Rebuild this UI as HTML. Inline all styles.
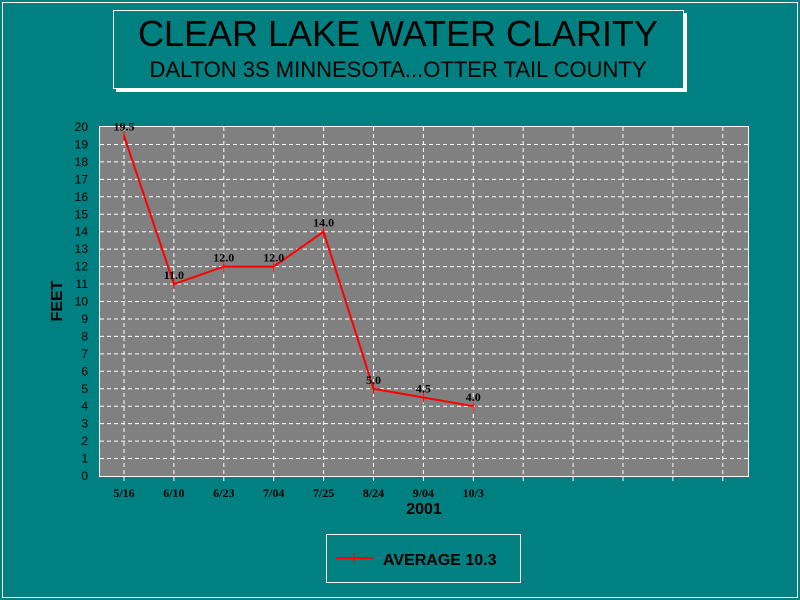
<!DOCTYPE html>
<html><head><meta charset="utf-8"><style>
body{margin:0;background:#008080;}
svg{display:block;font-family:"Liberation Sans",sans-serif;}
</style></head><body>
<svg id="chart" width="800" height="600">
<rect x="0" y="0" width="800" height="600" fill="#008080"/>
<rect x="2.5" y="2.5" width="795" height="595" fill="none" stroke="#fff"/>
<rect x="116" y="13" width="571" height="79" fill="#fff"/>
<rect x="113.5" y="10.5" width="570" height="78" fill="#008080" stroke="#fff"/>
<text x="398" y="46" font-size="36" text-anchor="middle" fill="#000">CLEAR LAKE WATER CLARITY</text>
<text x="398" y="77" font-size="22" text-anchor="middle" fill="#000">DALTON 3S MINNESOTA...OTTER TAIL COUNTY</text>
<rect x="99" y="126" width="650" height="351" fill="#fff"/>
<rect x="100" y="127" width="648" height="349" fill="#808080"/>
<g id="grid"></g><g id="axes"></g><g id="series"></g>
<text x="62" y="301" font-size="16" font-weight="bold" text-anchor="middle" transform="rotate(-90 62 301)">FEET</text>
<text x="424" y="514" font-size="16" font-weight="bold" text-anchor="middle">2001</text>
<g>
<rect x="326.5" y="534.5" width="194" height="48" fill="none" stroke="#fff"/>
<line x1="336" y1="558" x2="373" y2="558" stroke="#f00" stroke-width="2"/>
<line x1="354" y1="553" x2="354" y2="563" stroke="#f00" stroke-width="1"/>
<text x="383" y="565" font-size="16" font-weight="bold">AVERAGE 10.3</text>
</g>
</svg>
<script>
const categories=["5/16","6/10","6/23","7/04","7/25","8/24","9/04","10/3"];
const values=[19.5,11.0,12.0,12.0,14.0,5.0,4.5,4.0];
const yTicks=[0,1,2,3,4,5,6,7,8,9,10,11,12,13,14,15,16,17,18,19,20];
const slotCount=13;
const NS="http://www.w3.org/2000/svg";
const X0=124,DX=49.9,Y0=476,YT=127;
function xs(i){return X0+i*DX;}
function ys(v){return Y0-(v/20)*(Y0-YT);}
function mk(t,a,p){const e=document.createElementNS(NS,t);for(const k in a)e.setAttribute(k,a[k]);p.appendChild(e);return e;}
const grid=document.getElementById('grid'),axes=document.getElementById('axes'),ser=document.getElementById('series');
yTicks.forEach(v=>{
  if(v>0&&v<20){const l=mk('line',{x1:100,x2:748,y1:ys(v),y2:ys(v),stroke:'#fff','stroke-dasharray':'4 3'},grid);
  
  }
  const t=mk('text',{x:88,y:ys(v)+4,'font-size':12,'text-anchor':'end'},axes);t.textContent=v;
  
  
});
for(let i=0;i<slotCount;i++){
  const l=mk('line',{x1:xs(i),x2:xs(i),y1:127,y2:484,stroke:'#fff','stroke-dasharray':'4 3'},grid);
  
  
}
categories.forEach((c,i)=>{
  const t=mk('text',{x:xs(i),y:497,'font-size':12,'font-weight':'bold','text-anchor':'middle','font-family':'Liberation Serif, serif'},axes);t.textContent=c;
  
  
});
const pl=mk('polyline',{points:values.map((v,i)=>xs(i)+','+ys(v)).join(' '),fill:'none',stroke:'#f00','stroke-width':2},ser);


values.forEach((v,i)=>{
  const m=mk('line',{x1:xs(i),x2:xs(i),y1:ys(v)-5,y2:ys(v)+5,stroke:'#f00'},ser);
  
  
  const t=mk('text',{x:xs(i),y:ys(v)-5,'font-size':12,'font-weight':'bold','text-anchor':'middle','font-family':'Liberation Serif, serif'},ser);t.textContent=v.toFixed(1);
  
  
});
</script>
</body></html>
